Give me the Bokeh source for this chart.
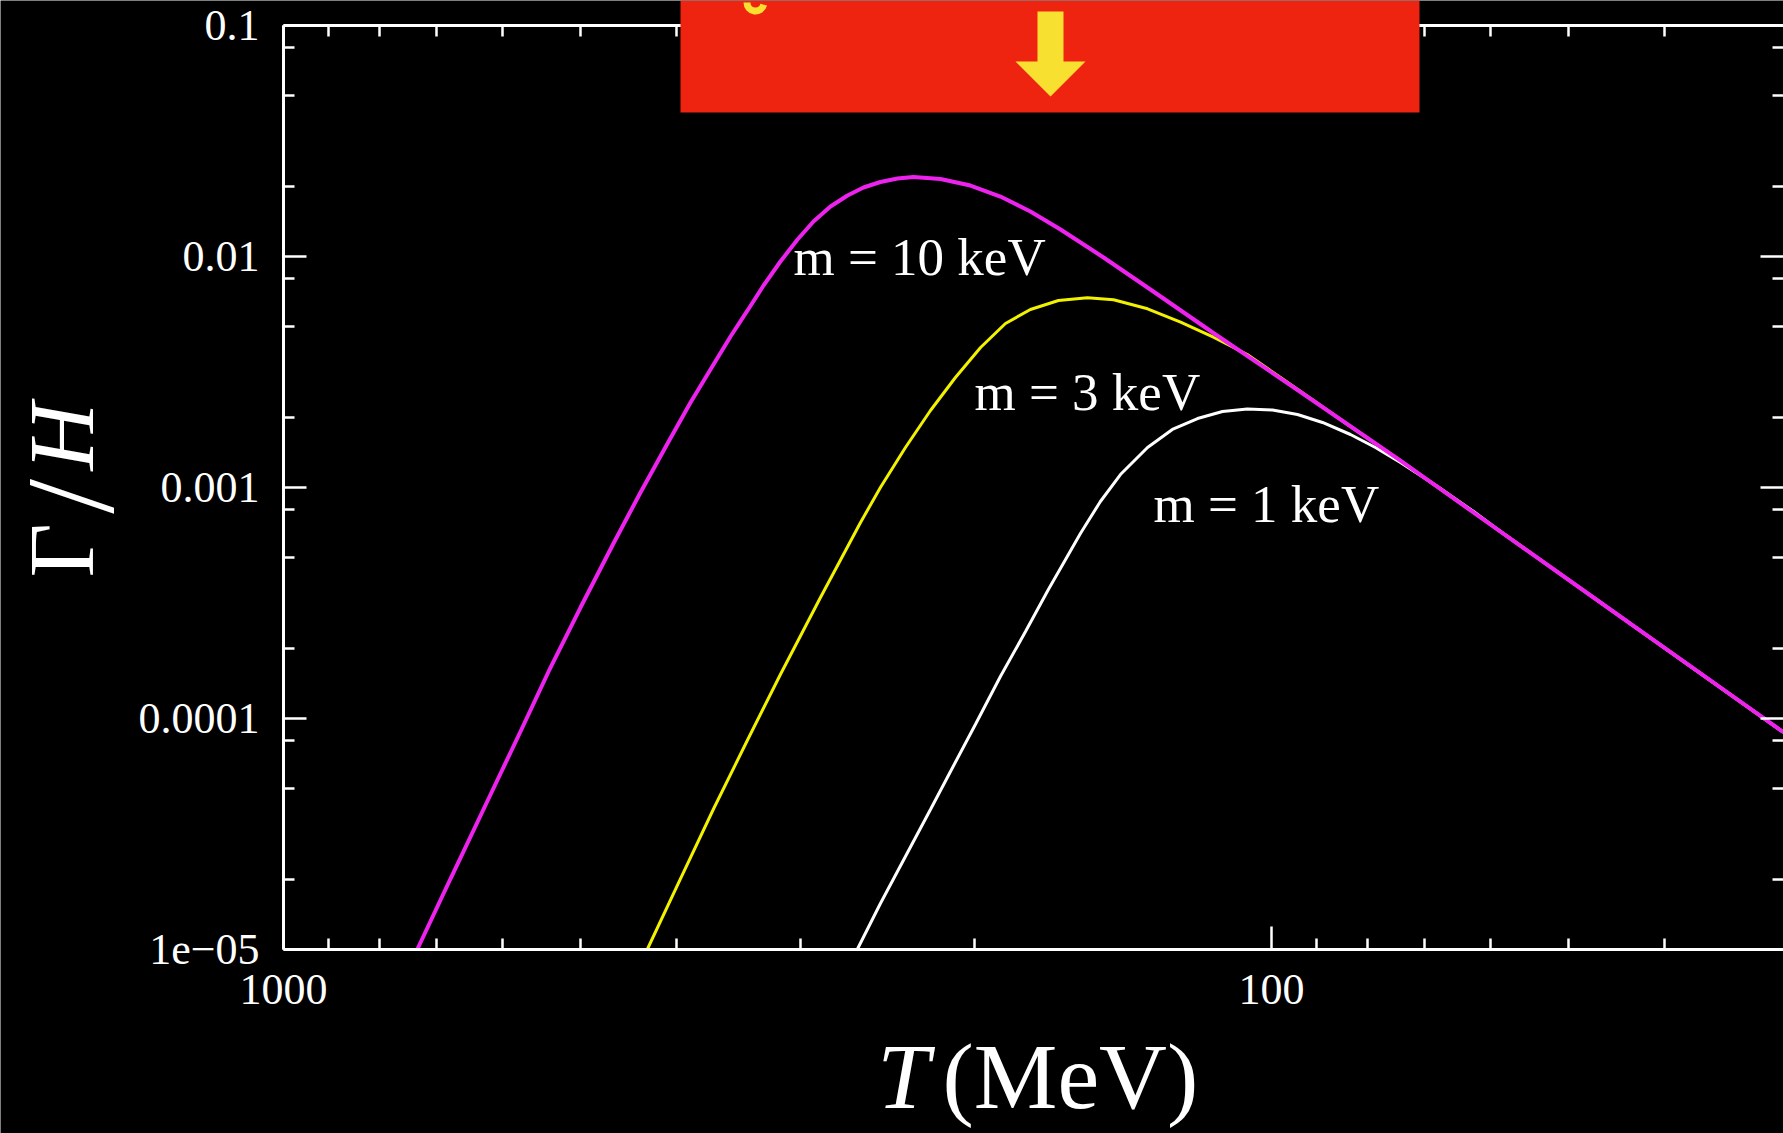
import math
from bokeh.plotting import figure
from bokeh.models import (Range1d, LogAxis, FixedTicker, BoxAnnotation,
                          PolyAnnotation, Label, ColumnDataSource)
from bokeh.core.properties import value
from bokeh.embed import file_html
from bokeh.resources import INLINE

# ---------------- data ----------------
T_10keV = [732.2, 677.4, 617.2, 575.6, 539.1, 500.5, 463.5, 435.2, 408.6, 387.3,
           367.1, 352.8, 339.1, 326.7, 314.1, 301.8, 290.8, 279.5, 268.6, 258.8,
           248.8, 239.1, 230.4, 216.3, 201.7, 188.1, 175.4, 163.5, 147.9, 132.6,
           114.5, 93.46, 74.04, 58.65, 46.45, 36.79, 30.33]
G_10keV = [1.0e-5, 2.029e-5, 4.688e-5, 8.784e-5, 1.598e-4, 3.023e-4, 5.722e-4,
           9.514e-4, 1.550e-3, 2.333e-3, 3.408e-3, 4.504e-3, 5.840e-3, 7.489e-3,
           9.514e-3, 1.185e-2, 1.418e-2, 1.646e-2, 1.837e-2, 1.989e-2, 2.101e-2,
           2.176e-2, 2.209e-2, 2.165e-2, 2.029e-2, 1.818e-2, 1.566e-2, 1.309e-2,
           9.901e-3, 7.197e-3, 4.664e-3, 2.591e-3, 1.306e-3, 6.445e-4, 3.178e-4,
           1.567e-4, 8.72e-5]

T_3keV = [428.4, 396.4, 366.9, 339.3, 314.1, 286.1, 260.6, 248.8, 234.7, 221.4,
          208.9, 197.0, 185.9, 175.4, 164.3, 153.6, 144.5, 133.5, 123.6, 114.5,
          105.8, 97.92, 90.67, 83.77, 74.04, 58.65, 46.45, 36.79, 30.33]
G_3keV = [1.0e-5, 2.029e-5, 4.077e-5, 8.031e-5, 1.550e-4, 3.341e-4, 7.057e-4,
          1.000e-3, 1.490e-3, 2.154e-3, 2.994e-3, 4.037e-3, 5.127e-3, 5.898e-3,
          6.450e-3, 6.626e-3, 6.495e-3, 5.939e-3, 5.194e-3, 4.473e-3, 3.765e-3,
          2.994e-3, 2.380e-3, 1.874e-3, 1.306e-3, 6.445e-4, 3.178e-4, 1.567e-4,
          8.72e-5]

T_1keV = [262.6, 248.8, 234.7, 221.4, 211.3, 199.4, 188.1, 177.4, 168.2, 161.6,
          156.1, 149.0, 142.2, 133.5, 126.0, 118.8, 112.1, 105.8, 99.77, 94.12,
          88.79, 83.19, 78.49, 74.04, 67.91, 62.44, 58.65, 46.45, 36.79, 30.33]
G_1keV = [1.0e-5, 1.582e-5, 2.527e-5, 4.037e-5, 5.898e-5, 9.420e-5, 1.520e-4,
          2.380e-4, 3.619e-4, 4.881e-4, 6.322e-4, 8.698e-4, 1.138e-3, 1.490e-3,
          1.783e-3, 1.989e-3, 2.133e-3, 2.187e-3, 2.165e-3, 2.070e-3, 1.912e-3,
          1.696e-3, 1.490e-3, 1.283e-3, 1.010e-3, 7.870e-4, 6.445e-4, 3.178e-4,
          1.567e-4, 8.72e-5]

curve_labels = ["m = 10 keV", "m = 3 keV", "m = 1 keV"]

x_major_ticks = [1000, 100]
x_minor_ticks = [900, 800, 700, 600, 500, 400, 300, 200, 90, 80, 70, 60, 50, 40, 30]
x_tick_labels = ["1000", "100"]

y_major_ticks = [0.1, 0.01, 0.001, 0.0001, 0.00001]
y_minor_ticks = [0.08, 0.05, 0.02, 0.008, 0.005, 0.002, 0.0008, 0.0005, 0.0002,
                 0.00008, 0.00005, 0.00002]
y_tick_labels = ["0.1", "0.01", "0.001", "0.0001", "1e\u221205"]

X_MIN, Y_MIN, Y_MAX = 1000, 1e-5, 0.1

# ---------------- geometry (pixels) ----------------
W, H = 1783, 1133
FL, FR, FT, FB = 283, 1783, 25, 949          # the plot box inside the canvas
PX_PER_DEC_X = 988.0
PX_PER_DEC_Y = (FB - FT) / 4.0

def px_T(px):
    return 10 ** (3 - (px - FL) / PX_PER_DEC_X)

def py_G(py):
    return 10 ** (-1 - (py - FT) / PX_PER_DEC_Y)

X_MAX_EDGE = px_T(FR)
SERIF = "Liberation Serif"

# the frame covers the whole canvas; axes are pinned with fixed_location
p = figure(width=W, height=H, x_axis_type="log", y_axis_type="log",
           x_range=Range1d(px_T(0), px_T(W)), y_range=Range1d(py_G(H), py_G(0)),
           output_backend="svg", toolbar_location=None, min_border=0,
           background_fill_color="black", border_fill_color="black",
           outline_line_color=None)
p.xgrid.visible = False
p.ygrid.visible = False

xt = FixedTicker(ticks=x_major_ticks, minor_ticks=x_minor_ticks)
yt = FixedTicker(ticks=y_major_ticks, minor_ticks=y_minor_ticks)
xb = (X_MAX_EDGE, X_MIN)
yb = (Y_MIN, Y_MAX)

def style(ax, labels):
    ax.axis_line_color = "white"
    ax.axis_line_width = 3
    ax.major_tick_line_color = "white"
    ax.minor_tick_line_color = "white"
    ax.major_tick_line_width = 2.5
    ax.minor_tick_line_width = 2.5
    ax.major_tick_in = 23
    ax.major_tick_out = 0
    ax.minor_tick_in = 11
    ax.minor_tick_out = 0
    if labels:
        ax.major_label_text_color = "white"
        ax.major_label_text_font = SERIF
        ax.major_label_text_font_size = "44px"
    else:
        ax.major_label_text_font_size = "1px"
        ax.major_label_text_alpha = 0
        ax.major_label_standoff = 0

xa = p.xaxis[0]
xa.ticker = xt
style(xa, True)
xa.fixed_location = Y_MIN
xa.bounds = xb
xa.major_label_overrides = dict(zip(x_major_ticks, x_tick_labels))
xa.major_label_standoff = 25

ya = p.yaxis[0]
ya.ticker = yt
style(ya, True)
ya.fixed_location = X_MIN
ya.bounds = yb
ya.major_label_overrides = dict(zip(y_major_ticks, y_tick_labels))
ya.major_label_standoff = 24

top = LogAxis(ticker=xt, fixed_location=Y_MAX, bounds=xb)
style(top, False)
top.major_label_overrides = {t: "" for t in x_major_ticks}
p.add_layout(top, "above")

right = LogAxis(ticker=yt, fixed_location=X_MAX_EDGE, bounds=yb)
style(right, False)
right.major_label_overrides = {t: "" for t in y_major_ticks}
right.axis_line_color = None
p.add_layout(right, "right")

# ---------------- curves ----------------
p.line(T_1keV, G_1keV, line_color="white", line_width=3)
p.line(T_3keV, G_3keV, line_color="#F2F200", line_width=3)
p.line(T_10keV, G_10keV, line_color="#EE22EE", line_width=4)

lab_src = ColumnDataSource(dict(
    x=[px_T(793), px_T(974), px_T(1153)],
    y=[py_G(256), py_G(391), py_G(503)],
    t=curve_labels))
p.text(x="x", y="y", text="t", source=lab_src, text_color="white",
       text_font=value(SERIF), text_font_size="53px",
       text_align="left", text_baseline="alphabetic")

# ---------------- axis titles ----------------
p.add_layout(Label(x=px_T(903), y=py_G(1075), text="T", text_color="white",
                   text_font=SERIF, text_font_style="italic", text_font_size="94px",
                   text_align="center", text_baseline="alphabetic"))
p.add_layout(Label(x=px_T(942), y=py_G(1075), text="(MeV)", text_color="white",
                   text_font=SERIF, text_font_size="94px",
                   text_align="left", text_baseline="alphabetic"))

p.add_layout(Label(x=px_T(60), y=py_G(577), text="\u0393", text_color="white",
                   text_font=SERIF, text_font_size="94px", angle=math.pi / 2,
                   text_align="left", text_baseline="alphabetic"))
p.add_layout(Label(x=px_T(70), y=py_G(496), text="/", text_color="white",
                   text_font=SERIF, text_font_size="125px", angle=math.pi / 2,
                   text_align="center", text_baseline="alphabetic"))
p.add_layout(Label(x=px_T(60), y=py_G(470), text="H", text_color="white",
                   text_font=SERIF, text_font_style="italic", text_font_size="94px",
                   angle=math.pi / 2, text_align="left", text_baseline="alphabetic"))

# ---------------- red banner with arrow ----------------
p.add_layout(BoxAnnotation(left=px_T(680), right=px_T(1419), top=py_G(0), bottom=py_G(112),
                           fill_color="#EF2410", fill_alpha=1.0, line_color=None))
arrow_px = [(1037, 11), (1063, 11), (1063, 61), (1085, 61), (1050, 96), (1015, 61), (1037, 61)]
p.add_layout(PolyAnnotation(xs=[px_T(a) for a, b in arrow_px], ys=[py_G(b) for a, b in arrow_px],
                            fill_color="#F8E030", fill_alpha=1.0, line_color=None))
p.annular_wedge(x=[px_T(755)], y=[py_G(2)], inner_radius=5, outer_radius=12,
                inner_radius_units="screen", outer_radius_units="screen",
                start_angle=math.radians(180), end_angle=math.radians(345),
                fill_color="#F8E030", line_color=None, level="overlay")

open("out.html", "w").write(file_html(p, INLINE))
